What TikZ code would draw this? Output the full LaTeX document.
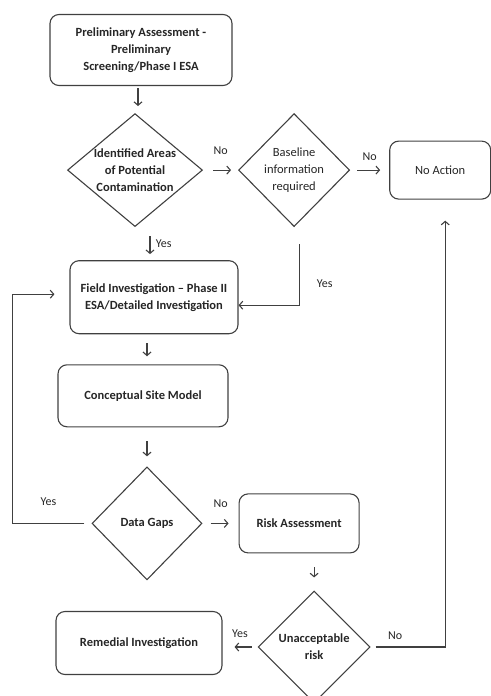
\documentclass[tikz,border=0pt]{standalone}
\usepackage{fontspec}
\setmainfont{Carlito}
\usetikzlibrary{arrows.meta,positioning,shapes.geometric}

\begin{document}
\begin{tikzpicture}[x=1pt,y=-1pt,->,>={Straight Barb[length=3.5pt,width=8pt]},line width=1.1pt,draw=black!75,text=black!85,
    font=\fontsize{12.5}{17}\selectfont,
    box node/.style={draw,rounded corners=9pt,align=center,inner sep=2pt},
    test node/.style={draw,diamond,aspect=1.2,align=center,inner sep=-4pt},
    heavy text/.style={font=\fontsize{12.5}{17}\selectfont\bfseries},
    tag/.style={font=\fontsize{12}{14}\selectfont}]

    \useasboundingbox[-] (0,0) rectangle (490,696);

    \node[box node,heavy text,minimum width=182pt,minimum height=71pt] (1) at (141,50)
        {Preliminary Assessment -\\Preliminary\\Screening/Phase I ESA};

    \node[test node,heavy text,minimum width=135pt,minimum height=113pt] (2) [below=27pt of 1,xshift=-6pt]
        {Identified Areas\\of Potential\\Contamination};
    \node[test node,minimum width=111pt,minimum height=113pt] (3) [right=35pt of 2]
        {Baseline\\information\\required};
    \node[box node,minimum width=101pt,minimum height=58pt] (4) [right=39pt of 3] {No Action};

    \node[box node,heavy text,minimum width=168pt,minimum height=73pt] (5) [below=33pt of 2,xshift=19pt]
        {Field Investigation -- Phase II\\ESA/Detailed Investigation};
    \node[box node,heavy text,minimum width=170pt,minimum height=62pt] (6) [below=30pt of 5,xshift=-11pt]
        {Conceptual Site Model};

    \node[test node,heavy text,minimum width=110pt,minimum height=113pt] (7) [below=39pt of 6,xshift=4pt] {Data Gaps};
    \node[box node,heavy text,minimum width=120pt,minimum height=59pt] (8) [right=36pt of 7] {Risk Assessment};

    \node[test node,heavy text,minimum width=112pt,minimum height=112pt] (9) [below=37pt of 8,xshift=15pt]
        {Unacceptable\\risk};
    \node[box node,heavy text,minimum width=166pt,minimum height=63pt] (10) [left=35pt of 9,yshift=4pt]
        {Remedial Investigation};

    % short arrows between the steps
    \path ([xshift=-3pt]1.south) edge[shorten <=2pt,shorten >=7pt] ([xshift=3pt]2.north);
    \path (2) edge[shorten <=10pt,shorten >=7pt] node[tag,above=12pt] {No} (3);
    \path (3) edge[shorten <=7pt,shorten >=9pt] node[tag,above=6pt] {No} (4);
    \path ([xshift=15pt]2.south) edge[shorten <=9pt,shorten >=6pt] node[tag,right=2pt] {Yes} ([xshift=-4pt]5.north);
    \path ([xshift=-7pt]5.south) edge[shorten <=9pt,shorten >=8pt] ([xshift=4pt]6.north);
    \path ([xshift=4pt]6.south) edge[shorten <=14pt,shorten >=10pt] (7.north);
    \path (7) edge[shorten <=8pt,shorten >=10pt] node[tag,above=12pt] {No} (8);
    \path ([xshift=15pt]8.south) edge[shorten <=14pt,shorten >=13pt] (9.north);
    \path (9.west) edge[shorten <=6pt,shorten >=12pt] node[tag,above=6pt] {Yes} (9.west -| 10.east);

    % long connectors
    \draw ([xshift=5pt,yshift=-17pt]3.south) |- node[tag,pos=0.32,right=14pt] {Yes} ([yshift=-8pt]5.east);
    \draw ([xshift=-7pt]7.west) -- node[tag,above=14pt] {Yes} ++(-72,0) |- ([xshift=-15pt,yshift=3pt]5.west);
    \draw ([xshift=5pt]9.east) -| node[tag,pos=0.14,above=4pt] {No} ([xshift=5pt,yshift=-21pt]4.south);
\end{tikzpicture}
\end{document}
